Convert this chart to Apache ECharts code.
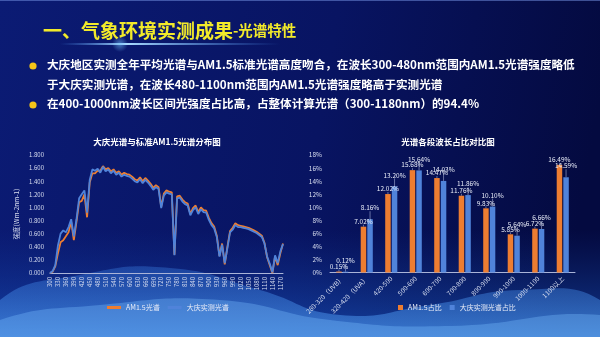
<!DOCTYPE html>
<html><head><meta charset="utf-8">
<script src="https://cdn.jsdelivr.net/npm/echarts@6/dist/echarts.min.js"></script>
<style>html,body{margin:0;padding:0;background:#08125c;}#c{width:600px;height:337px;}</style>
</head><body><div id="c"></div>
<script>
// ---- Line chart data (wavelength nm, 10 nm steps) ----
var wavelengths = [300,310,320,330,340,350,360,370,380,390,400,410,420,430,440,450,460,470,480,490,500,510,520,530,540,550,560,570,580,590,600,610,620,630,640,650,660,670,680,690,700,710,720,730,740,750,760,770,780,790,800,810,820,830,840,850,860,870,880,890,900,910,920,930,940,950,960,970,980,990,1000,1010,1020,1030,1040,1050,1060,1070,1080,1090,1100,1110,1120,1130,1140,1150,1160,1170,1180];
var am15Spectrum = [0.00,0.02,0.10,0.30,0.47,0.50,0.56,0.62,0.78,0.50,0.78,1.08,1.10,1.20,0.85,1.38,1.52,1.52,1.56,1.56,1.63,1.58,1.60,1.55,1.58,1.53,1.55,1.50,1.53,1.51,1.50,1.47,1.43,1.41,1.46,1.40,1.45,1.41,1.36,1.30,1.34,1.31,1.01,1.21,1.26,1.24,1.23,0.28,1.17,1.18,1.12,1.08,1.06,0.90,0.99,1.03,0.93,1.00,0.96,0.95,0.84,0.76,0.71,0.57,0.26,0.45,0.13,0.40,0.64,0.69,0.76,0.73,0.72,0.71,0.70,0.69,0.67,0.65,0.63,0.60,0.57,0.46,0.24,0.12,0.00,0.25,0.12,0.30,0.45];
var daqingSpectrum = [0.00,0.03,0.12,0.42,0.60,0.65,0.62,0.70,0.82,0.56,0.82,1.14,1.20,1.26,0.92,1.42,1.58,1.56,1.59,1.53,1.62,1.55,1.58,1.52,1.56,1.50,1.53,1.47,1.50,1.48,1.47,1.44,1.40,1.38,1.43,1.37,1.42,1.38,1.33,1.27,1.31,1.28,0.99,1.18,1.23,1.21,1.20,0.27,1.14,1.15,1.09,1.05,1.03,0.88,0.96,1.00,0.90,0.97,0.93,0.92,0.81,0.73,0.68,0.55,0.25,0.43,0.15,0.38,0.62,0.66,0.73,0.70,0.70,0.69,0.68,0.67,0.65,0.63,0.61,0.58,0.55,0.45,0.25,0.14,0.01,0.27,0.15,0.33,0.44];

// ---- Bar chart data (percent) ----
var bandCategories = ['280-320（UVB）','320-420（UVA）','420-500','500-600','600-700','700-800','800-900','900-1000','1000-1100','1100以上'];
var am15Share = [0.15,7.02,12.02,15.68,14.47,11.76,9.83,5.85,6.72,16.49];
var daqingShare = [0.12,8.16,13.20,15.64,14.03,11.86,10.10,5.64,6.66,14.59];

var ORANGE = '#ED7D31', BLUE = '#5083DA';
var FONT = '"Noto Sans CJK SC","Noto Sans",sans-serif';

var chart = echarts.init(document.getElementById('c'), null, {renderer:'canvas'});

var option = {
  backgroundColor: {
    type:'linear', x:0, y:0, x2:1, y2:0.3,
    colorStops:[{offset:0,color:'#0b1b74'},{offset:0.55,color:'#081462'},{offset:1,color:'#040a40'}]
  },
  textStyle:{fontFamily:FONT},
  animation:false,
  graphic:[
    {type:'rect', silent:true, z:-10, shape:{x:0,y:230,width:600,height:107},
      style:{fill:{type:'linear',x:0,y:0,x2:0,y2:1,colorStops:[{offset:0,color:'rgba(20,70,170,0)'},{offset:1,color:'rgba(30,100,210,0.55)'}]}}},
    {type:'polygon', silent:true, z:-9, shape:{smooth:0.5, points:[[0,300],[80,275],[170,268],[260,290],[340,315],[430,305],[520,290],[600,300],[600,337],[0,337]]},
      style:{fill:{type:'linear',x:0,y:0,x2:0,y2:1,colorStops:[{offset:0,color:'rgba(60,130,230,0.35)'},{offset:1,color:'rgba(90,170,250,0.6)'}]}}},
    {type:'polygon', silent:true, z:-9, shape:{smooth:0.5, points:[[0,320],[100,305],[220,300],[330,320],[450,326],[600,315],[600,337],[0,337]]},
      style:{fill:'rgba(120,190,255,0.35)'}},
    {type:'rect', silent:true, shape:{x:60,y:43,width:220,height:2},
      style:{fill:{type:'linear',x:0,y:0,x2:1,y2:0,colorStops:[{offset:0,color:'rgba(80,160,255,0)'},{offset:0.3,color:'rgba(170,220,255,1)'},{offset:1,color:'rgba(80,160,255,0)'}]}}},
    {type:'rect', silent:true, shape:{x:80,y:36,width:80,height:16},
      style:{fill:{type:'radial',x:0.5,y:0.5,r:0.5,colorStops:[{offset:0,color:'rgba(120,200,255,0.55)'},{offset:1,color:'rgba(120,200,255,0)'}]}}},
    {type:'rect', silent:true, shape:{x:0,y:0,width:600,height:1}, style:{fill:'rgba(120,150,230,0.5)'}},
    {type:'text', left:43, top:21, style:{
      text:'{a|一、气象环境实测成果}{b|-光谱特性}',
      rich:{a:{fontSize:19,fontWeight:'bold',fill:'#F2EA2A',fontFamily:FONT},b:{fontSize:14.5,fontWeight:'bold',fill:'#F2EA2A',fontFamily:FONT}}
    }},
    {type:'circle', shape:{cx:33,cy:66,r:3.6}, style:{fill:'#F5C518'}},
    {type:'circle', shape:{cx:33,cy:105,r:3.6}, style:{fill:'#F5C518'}},
    {type:'text', left:47, top:59, style:{text:'大庆地区实测全年平均光谱与AM1.5标准光谱高度吻合，在波长300-480nm范围内AM1.5光谱强度略低', fill:'#ffffff', fontSize:11.6, fontWeight:'bold', fontFamily:FONT}},
    {type:'text', left:47, top:79, style:{text:'于大庆实测光谱，在波长480-1100nm范围内AM1.5光谱强度略高于实测光谱', fill:'#ffffff', fontSize:11.6, fontWeight:'bold', fontFamily:FONT}},
    {type:'text', left:47, top:98, style:{text:'在400-1000nm波长区间光强度占比高，占整体计算光谱（300-1180nm）的94.4%', fill:'#ffffff', fontSize:11.6, fontWeight:'bold', fontFamily:FONT}}
  ],
  title:[
    {text:'大庆光谱与标准AM1.5光谱分布图', left:152, textAlign:'center', top:133, textStyle:{color:'#ffffff',fontSize:8.5,fontWeight:'bold',fontFamily:FONT}},
    {text:'光谱各段波长占比对比图', left:443, textAlign:'center', top:133, textStyle:{color:'#ffffff',fontSize:8.5,fontWeight:'bold',fontFamily:FONT}}
  ],
  legend:[
    {data:['AM1.5光谱','大庆实测光谱'], left:102, top:299, itemWidth:14, itemHeight:3, itemGap:8, icon:'rect',
     textStyle:{color:'#e8ecf8',fontSize:7,fontFamily:FONT}},
    {data:['AM1.5占比','大庆实测光谱占比'], left:393, top:299, itemWidth:5, itemHeight:5, itemGap:8, icon:'rect',
     textStyle:{color:'#e8ecf8',fontSize:7,fontFamily:FONT}}
  ],
  grid:[
    {left:50, top:155, width:233, height:118, containLabel:false},
    {left:330, top:155, width:245, height:117.5, containLabel:false}
  ],
  xAxis:[
    {type:'category', gridIndex:0, data:wavelengths, boundaryGap:false,
     axisLine:{lineStyle:{color:'#aab4d8',width:1}}, axisTick:{show:false},
     axisLabel:{interval:2, rotate:90, color:'#d8def0', fontSize:6, margin:4}},
    {type:'category', gridIndex:1, data:bandCategories,
     axisLine:{lineStyle:{color:'#aab4d8',width:1}}, axisTick:{show:false},
     axisLabel:{interval:0, rotate:45, color:'#d8def0', fontSize:6.5, margin:5}}
  ],
  yAxis:[
    {type:'value', gridIndex:0, min:0, max:1.8, interval:0.2,
     name:'强度(Wm-2nm-1)', nameLocation:'middle', nameGap:30, nameRotate:90,
     nameTextStyle:{color:'#d8def0',fontSize:6.5},
     axisLine:{show:false}, axisTick:{show:false}, splitLine:{show:false},
     axisLabel:{color:'#d8def0', fontSize:6, margin:6, formatter:function(v){return v.toFixed(3);}}},
    {type:'value', gridIndex:1, min:0, max:18, interval:2,
     axisLine:{show:false}, axisTick:{show:false}, splitLine:{show:false},
     axisLabel:{color:'#d8def0', fontSize:6.5, margin:8, formatter:'{value}%'}}
  ],
  series:[
    {name:'AM1.5光谱', type:'line', xAxisIndex:0, yAxisIndex:0, data:am15Spectrum, symbol:'none',
     lineStyle:{color:ORANGE,width:1.8}, itemStyle:{color:ORANGE}, z:2},
    {name:'大庆实测光谱', type:'line', xAxisIndex:0, yAxisIndex:0, data:daqingSpectrum, symbol:'none',
     lineStyle:{color:BLUE,width:1.8}, itemStyle:{color:BLUE}, z:3},
    {name:'AM1.5占比', type:'bar', xAxisIndex:1, yAxisIndex:1, data:am15Share, barWidth:5.5, barGap:'20%',
     itemStyle:{color:ORANGE},
     label:{show:true, position:'top', distance:2, color:'#e8ecf8', fontSize:6.5, formatter:function(p){return p.value.toFixed(2)+'%';}},
     labelLine:{show:true, lineStyle:{color:'#aab4d8',width:0.6}}},
    {name:'大庆实测光谱占比', type:'bar', xAxisIndex:1, yAxisIndex:1, data:daqingShare, barWidth:5.5,
     itemStyle:{color:BLUE},
     label:{show:true, position:'top', distance:8, color:'#e8ecf8', fontSize:6.5, formatter:function(p){return p.value.toFixed(2)+'%';}},
     labelLine:{show:true, lineStyle:{color:'#aab4d8',width:0.6}}}
  ],
  labelLayout:{moveOverlap:'shiftY'}
};
chart.setOption(option);
</script></body></html>
